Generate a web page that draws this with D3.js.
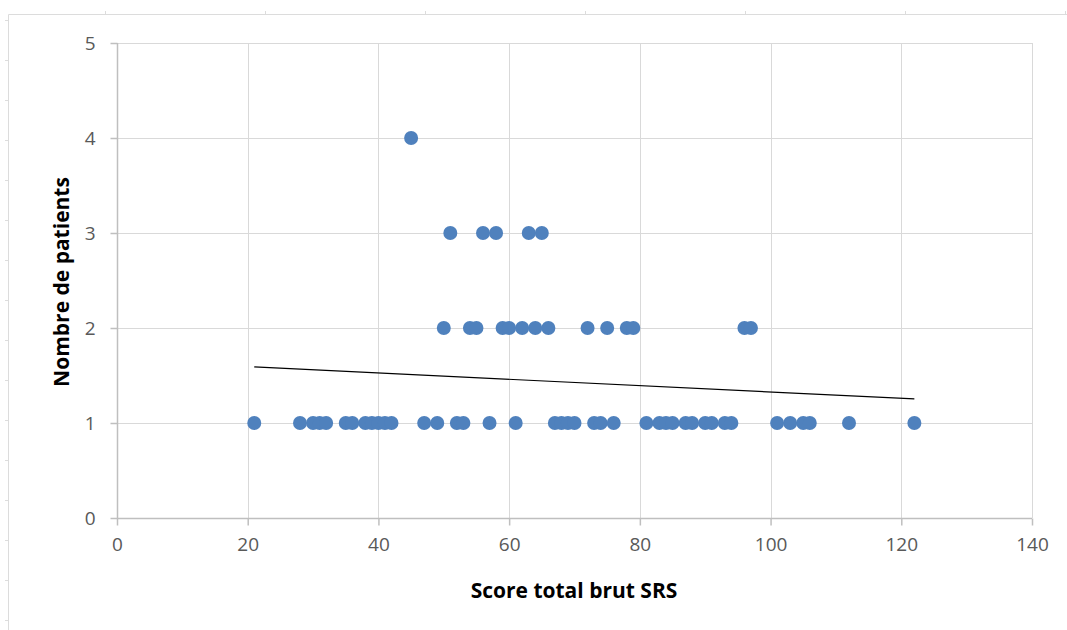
<!DOCTYPE html>
<html><head><meta charset="utf-8">
<script src="https://cdn.jsdelivr.net/npm/d3@7"></script>
<style>html,body{margin:0;padding:0;background:#fff;}svg{display:block;}</style>
</head><body>
<svg id="chart" width="1067" height="630"></svg>
<script>
// Scores (x) and number of patients (y)
const scores = [21,28,30,31,32,35,36,38,39,40,41,42,47,49,52,53,57,61,67,68,69,70,73,74,76,81,83,84,85,87,88,90,91,93,94,101,103,105,106,112,122,
                50,54,55,59,60,62,64,66,72,75,78,79,96,97,
                51,56,58,63,65,
                45];
const counts = [1,1,1,1,1,1,1,1,1,1,1,1,1,1,1,1,1,1,1,1,1,1,1,1,1,1,1,1,1,1,1,1,1,1,1,1,1,1,1,1,1,
                2,2,2,2,2,2,2,2,2,2,2,2,2,2,
                3,3,3,3,3,
                4];
const trendX = [21, 122];
const trendY = [1.59, 1.253];
const xTicks = [0,20,40,60,80,100,120,140];
const yTicks = [0,1,2,3,4,5];
const xTitle = "Score total brut SRS";
const yTitle = "Nombre de patients";

const svg = d3.select("#chart");
const x = d3.scaleLinear().domain([0,140]).range([117,1032]);
const y = d3.scaleLinear().domain([0,5]).range([518,43]);
const font = "'Open Sans', 'Noto Sans', sans-serif";

// outer chart frame (spreadsheet-like)
const frame = svg.append("g").attr("stroke","#dcdcdc").attr("fill","none");
frame.append("line").attr("x1",8.5).attr("x2",1067).attr("y1",14.5).attr("y2",14.5);
frame.append("line").attr("x1",8.5).attr("x2",8.5).attr("y1",14.5).attr("y2",630);
d3.range(105,1067,160).forEach(v=>frame.append("line").attr("x1",v+0.5).attr("x2",v+0.5).attr("y1",11).attr("y2",14.5));
d3.range(20,630,40).forEach(v=>frame.append("line").attr("x1",5).attr("x2",8.5).attr("y1",v+0.5).attr("y2",v+0.5));

// gridlines
const grid = svg.append("g").attr("stroke","#d9d9d9").attr("stroke-width",1);
xTicks.slice(1).forEach(t=>grid.append("line").attr("x1",Math.round(x(t))+0.5).attr("x2",Math.round(x(t))+0.5).attr("y1",y(5)).attr("y2",y(0)));
yTicks.slice(1).forEach(t=>grid.append("line").attr("x1",x(0)).attr("x2",x(140)).attr("y1",Math.round(y(t))+0.5).attr("y2",Math.round(y(t))+0.5));

// axes
const xAxis = d3.axisBottom(x).tickValues(xTicks).tickFormat(d3.format("d")).tickSize(7).tickPadding(12);
const yAxis = d3.axisLeft(y).tickValues(yTicks).tickFormat(d3.format("d")).tickSize(7).tickPadding(15);
const gx = svg.append("g").attr("transform",`translate(0,${Math.round(y(0))+0.5})`).call(xAxis);
const gy = svg.append("g").attr("transform",`translate(${Math.round(x(0))+0.5},0)`).call(yAxis);
[gx,gy].forEach(g=>{
  g.select(".domain").attr("stroke","#bfbfbf").attr("stroke-width",1.5);
  g.selectAll(".tick line").attr("stroke","#bfbfbf").attr("stroke-width",1.5);
  g.selectAll(".tick text").attr("fill","#595959").attr("font-size",19).attr("font-family",font);
});
gx.select(".domain").attr("d",`M${x(0)},0H${x(140)}`);
gy.select(".domain").attr("d",`M0,${y(5)}V${y(0)}`);

// points
svg.append("g").selectAll("circle").data(scores.map((s,i)=>({s,c:counts[i]})))
  .join("circle").attr("cx",d=>x(d.s)).attr("cy",d=>y(d.c)).attr("r",7).attr("fill","#4f81bd");

// trendline
svg.append("path").datum(trendX.map((v,i)=>[v,trendY[i]]))
  .attr("d",d3.line().x(d=>x(d[0])).y(d=>y(d[1])))
  .attr("stroke","#000").attr("stroke-width",1.2).attr("fill","none");

// titles
svg.append("text").attr("x",574).attr("y",598).attr("text-anchor","middle")
  .attr("font-family",font).attr("font-weight","bold").attr("font-size",21).attr("fill","#000").text(xTitle);
svg.append("text").attr("transform","translate(69,282) rotate(-90)").attr("text-anchor","middle")
  .attr("font-family",font).attr("font-weight","bold").attr("font-size",21).attr("fill","#000").text(yTitle);
</script>
</body></html>
